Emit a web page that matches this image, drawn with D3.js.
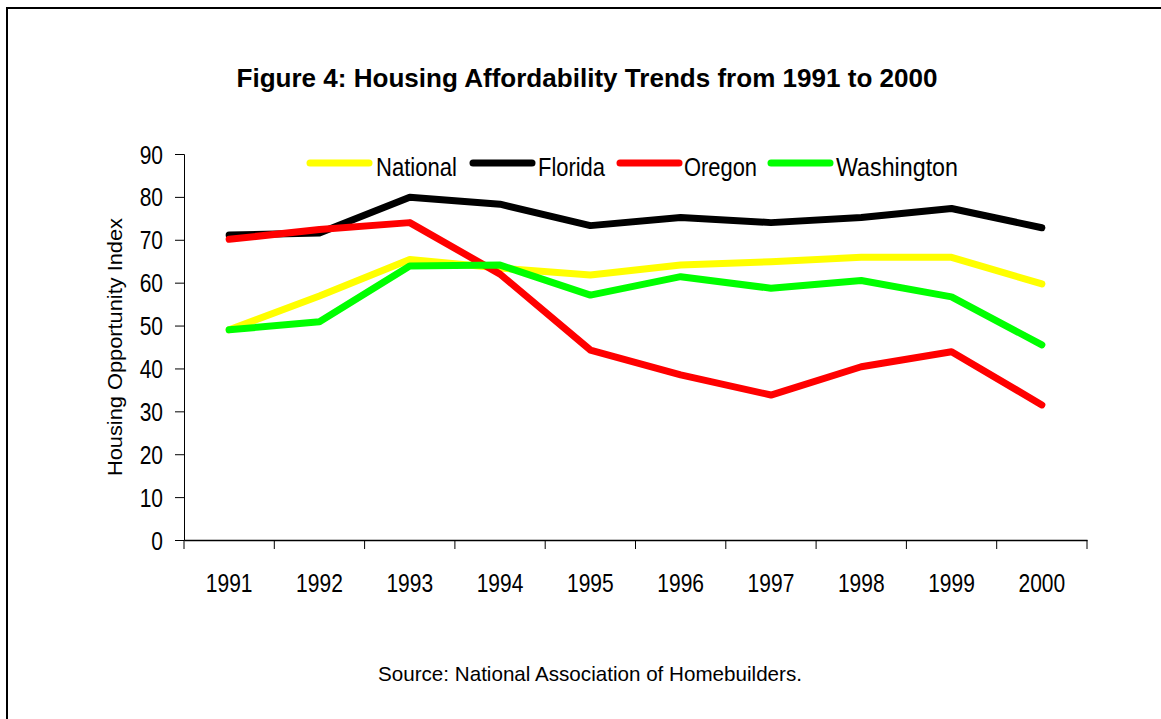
<!DOCTYPE html>
<html>
<head>
<meta charset="utf-8">
<script src="https://cdn.jsdelivr.net/npm/d3@7"></script>
<style>
  html, body { margin: 0; padding: 0; background: #fff; }
  svg { display: block; }
  .narrow { font-family: "Liberation Sans Narrow", "Arial Narrow", "Liberation Sans", sans-serif; }
</style>
</head>
<body>
<svg id="chart" width="1161" height="719"></svg>
<script>
const years = ["1991","1992","1993","1994","1995","1996","1997","1998","1999","2000"];
const national   = [49.0, 56.9, 65.4, 63.4, 61.8, 64.1, 64.9, 65.9, 65.9, 59.7];
const florida    = [71.1, 71.6, 79.9, 78.3, 73.3, 75.2, 74.0, 75.2, 77.3, 72.8];
const oregon     = [70.1, 72.4, 74.0, 62.0, 44.3, 38.5, 33.8, 40.4, 43.9, 31.5];
const washington = [49.0, 50.9, 63.9, 64.1, 57.1, 61.4, 58.7, 60.5, 56.7, 45.5];
const yTicks = [0, 10, 20, 30, 40, 50, 60, 70, 80, 90];
const seriesNames = ["National", "Florida", "Oregon", "Washington"];
const seriesColors = ["#ffff00", "#000000", "#ff0000", "#00ff00"];
const titleText = "Figure 4: Housing Affordability Trends from 1991 to 2000";
const yLabel = "Housing Opportunity Index";
const sourceText = "Source: National Association of Homebuilders.";

const seriesData = [national, florida, oregon, washington];
const svg = d3.select("#chart");

// outer frame
svg.append("rect").attr("x", 7).attr("y", 8).attr("width", 1200).attr("height", 800)
  .attr("fill", "none").attr("stroke", "#000").attr("stroke-width", 2);

const pLeft = 184, pRight = 1087, pTop = 154, pBottom = 540;
const x = d3.scaleBand().domain(years).range([pLeft, pRight]).padding(0);
const y = d3.scaleLinear().domain([0, 90]).range([pBottom, pTop]);

// condense a text element (reference uses a narrow face)
function condense(sel, factor) {
  sel.each(function () {
    const w = this.getComputedTextLength();
    d3.select(this).attr("textLength", w * factor).attr("lengthAdjust", "spacingAndGlyphs");
  });
}

// title
const title = svg.append("text").attr("x", 587).attr("y", 87).attr("text-anchor", "middle")
  .style("font-family", "'Liberation Sans', Arial, sans-serif").style("font-weight", "bold")
  .style("font-size", "25px").text(titleText);
title.attr("textLength", 701).attr("lengthAdjust", "spacingAndGlyphs");

// y axis
const yAxis = d3.axisLeft(y).tickValues(yTicks).tickSize(9).tickPadding(12).tickFormat(d3.format("d"));
const gy = svg.append("g").attr("transform", `translate(${pLeft},0)`).call(yAxis);
gy.select(".domain").attr("stroke", "#000").attr("stroke-width", 1);
gy.selectAll(".tick line").attr("stroke", "#000");
gy.selectAll(".tick text").attr("class", "narrow").style("font-size", "25px").attr("fill", "#000").attr("dy", "0.36em");
condense(gy.selectAll(".tick text"), 0.84);

// x axis
const xAxis = d3.axisBottom(x).tickSize(0).tickPadding(34);
const gx = svg.append("g").attr("transform", `translate(0,${pBottom})`).call(xAxis);
gx.select(".domain").attr("stroke", "#000").attr("stroke-width", 1.5);
gx.selectAll(".tick text").attr("class", "narrow").style("font-size", "25px").attr("fill", "#000");
condense(gx.selectAll(".tick text"), 0.84);
// band boundary ticks
const bounds = years.map(d => x(d)).concat([x(years[years.length - 1]) + x.bandwidth()]);
gx.selectAll(".bound").data(bounds).enter().append("line")
  .attr("x1", d => d).attr("x2", d => d)
  .attr("y1", 0).attr("y2", 9).attr("stroke", "#000").attr("stroke-width", 1);

// lines
const line = d3.line().x((d, i) => x(years[i]) + x.bandwidth() / 2).y(d => y(d));
seriesData.forEach((vals, k) => {
  svg.append("path").datum(vals).attr("d", line).attr("fill", "none")
    .attr("stroke", seriesColors[k]).attr("stroke-width", 7)
    .attr("stroke-linejoin", "round").attr("stroke-linecap", "round");
});

// legend
const legendX = [310, 473, 620, 771];
const legendTextX = [376, 538, 684, 836];
const legendTextW = [81, 67, 73, 122];
const lg = svg.append("g");
seriesNames.forEach((name, k) => {
  lg.append("line").attr("x1", legendX[k]).attr("x2", legendX[k] + 59)
    .attr("y1", 163).attr("y2", 163).attr("stroke", seriesColors[k])
    .attr("stroke-width", 7).attr("stroke-linecap", "round");
  lg.append("text").attr("class", "narrow").attr("x", legendTextX[k]).attr("y", 176)
    .style("font-size", "26px").attr("fill", "#000")
    .attr("textLength", legendTextW[k]).attr("lengthAdjust", "spacingAndGlyphs").text(name);
});

// y label
svg.append("text").attr("class", "narrow")
  .attr("transform", `translate(122,347) rotate(-90)`).attr("text-anchor", "middle")
  .style("font-size", "21px").attr("fill", "#000")
  .attr("textLength", 258).attr("lengthAdjust", "spacingAndGlyphs").text(yLabel);

// source
svg.append("text").attr("class", "narrow").attr("x", 590).attr("y", 681).attr("text-anchor", "middle")
  .style("font-size", "21px").attr("fill", "#000")
  .attr("textLength", 424).attr("lengthAdjust", "spacingAndGlyphs").text(sourceText);
</script>
</body>
</html>
